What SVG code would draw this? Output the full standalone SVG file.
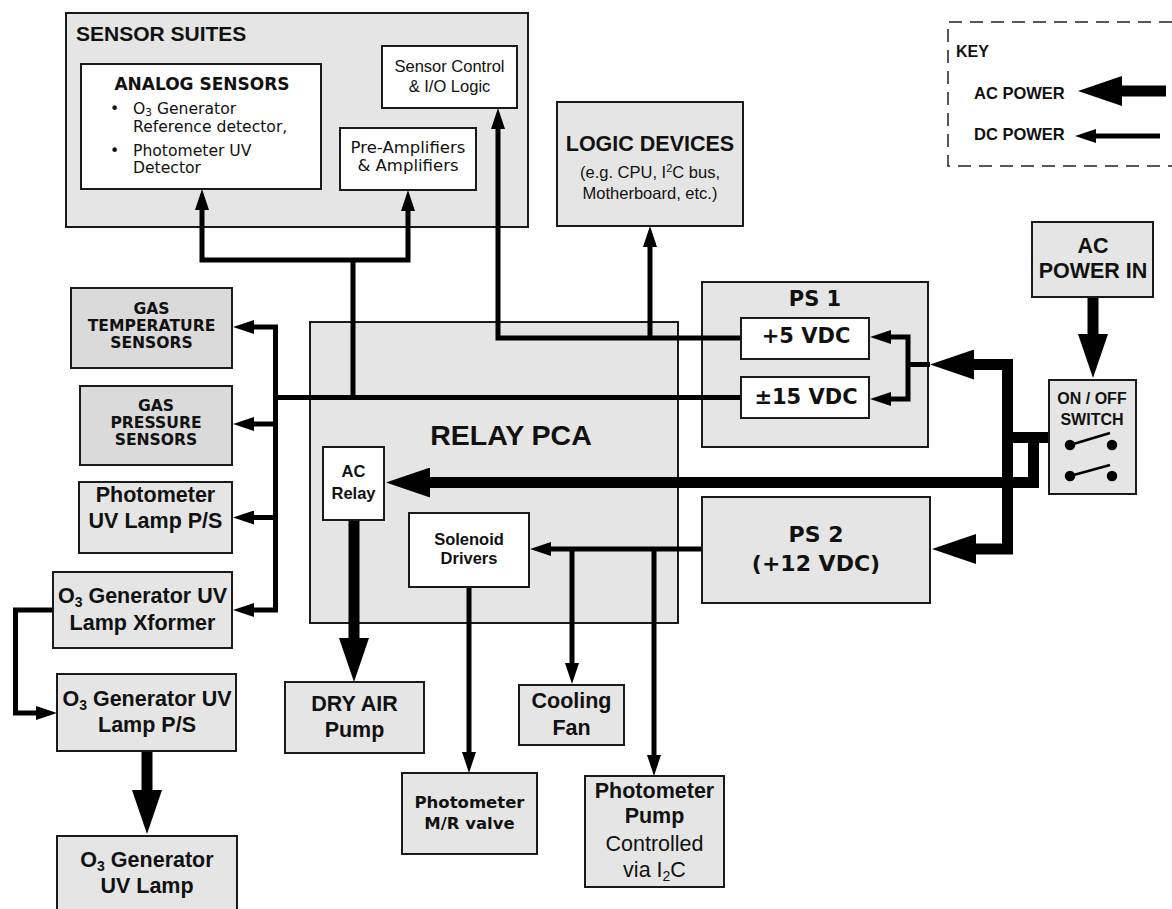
<svg xmlns="http://www.w3.org/2000/svg" width="1172" height="909" viewBox="0 0 1172 909">
<style>
.g{fill:#e5e5e5;stroke:#1a1a1a;stroke-width:2}
.gd{fill:#dadada;stroke:#1a1a1a;stroke-width:2}
.w{fill:#fff;stroke:#1a1a1a;stroke-width:2}
.ab{font-family:"Liberation Sans",Arial,sans-serif;font-weight:bold;fill:#111}
.ar{font-family:"Liberation Sans",Arial,sans-serif;fill:#111}
.vb{font-family:"DejaVu Sans",Verdana,sans-serif;font-weight:bold;fill:#111}
.vr{font-family:"DejaVu Sans",Verdana,sans-serif;fill:#111}
.m{text-anchor:middle}
.dc{fill:none;stroke:#000;stroke-width:5;stroke-linejoin:miter}
.ac{fill:none;stroke:#000;stroke-width:11;stroke-linejoin:miter}
</style>
<defs>
<marker id="dcA" viewBox="0 -7 21 14" refX="0" refY="0" markerWidth="21" markerHeight="14" markerUnits="userSpaceOnUse" orient="auto-start-reverse"><path d="M0,-7 L21,0 L0,7 z" fill="#000"/></marker>
<marker id="acA" viewBox="0 -15 44 30" refX="0" refY="0" markerWidth="44" markerHeight="30" markerUnits="userSpaceOnUse" orient="auto-start-reverse"><path d="M0,-15 L44,0 L0,15 z" fill="#000"/></marker>
</defs>

<g id="sensor-suites">
<rect class="g" x="66" y="13" width="462" height="214"/>
<text class="ab" x="76" y="41" font-size="21">SENSOR SUITES</text>
</g>
<g id="relay-pca">
<rect class="g" x="310" y="322" width="368" height="301"/>
<text class="ab m" x="511" y="445" font-size="28.5">RELAY PCA</text>
</g>
<g id="ps1">
<rect class="g" x="702" y="282" width="226" height="165"/>
<text class="vb m" x="815" y="306" font-size="21">PS 1</text>
</g>

<g id="connectors">
<path class="dc" d="M353,397.5 V260"/>
<path class="dc" d="M202,210 V260 H408 V211" marker-start="url(#dcA)" marker-end="url(#dcA)"/>
<path class="dc" d="M498,129 V338 H741" marker-start="url(#dcA)"/>
<path class="dc" d="M650,338 V247" marker-end="url(#dcA)"/>
<path class="dc" d="M741,397.5 H275.5"/>
<path class="dc" d="M254,327 H275.5 V610 H254" marker-start="url(#dcA)" marker-end="url(#dcA)"/>
<path class="dc" d="M275.5,424 H254" marker-end="url(#dcA)"/>
<path class="dc" d="M275.5,517.5 H254" marker-end="url(#dcA)"/>
<path class="dc" d="M930,364.5 H908"/>
<path class="dc" d="M891,337 H908 V399 H891" marker-start="url(#dcA)" marker-end="url(#dcA)"/>
<path class="dc" d="M702,549 H551" marker-end="url(#dcA)"/>
<path class="dc" d="M572,549 V663" marker-end="url(#dcA)"/>
<path class="dc" d="M654,549 V755" marker-end="url(#dcA)"/>
<path class="dc" d="M469,587 V752" marker-end="url(#dcA)"/>
<path class="dc" d="M53,610 H15.5 V713 H36" marker-end="url(#dcA)"/>
<path class="ac" d="M1093,297 V334" marker-end="url(#acA)"/>
<path class="ac" d="M974,364.5 H1007.5 V549 H976" marker-start="url(#acA)" marker-end="url(#acA)"/>
<path class="ac" d="M1049,437.5 H1002"/>
<path class="ac" d="M1033.5,437.5 V482.5 H430" marker-end="url(#acA)"/>
<path class="ac" d="M354,520 V638" marker-end="url(#acA)"/>
<path class="ac" d="M147,751 V790" marker-end="url(#acA)"/>
</g>

<g id="analog-sensors">
<rect class="w" x="81" y="64" width="240" height="125"/>
<text class="vb m" x="202" y="90" font-size="17">ANALOG SENSORS</text>
<text class="vr" font-size="15.6"><tspan x="110" y="114">•</tspan><tspan x="133" y="114">O<tspan font-size="10.5" dy="2">3</tspan><tspan dy="-2"> Generator</tspan></tspan><tspan x="133" y="132">Reference detector,</tspan><tspan x="110" y="156">•</tspan><tspan x="133" y="156">Photometer UV</tspan><tspan x="133" y="173">Detector</tspan></text>
</g>
<g id="sensor-control">
<rect class="w" x="382" y="46" width="135" height="62"/>
<text class="ar m" font-size="16.5"><tspan x="449.5" y="72">Sensor Control</tspan><tspan x="449.5" y="92">&amp; I/O Logic</tspan></text>
</g>
<g id="pre-amplifiers">
<rect class="w" x="340" y="128" width="136" height="62"/>
<text class="vr m" font-size="16.5"><tspan x="408" y="153">Pre-Amplifiers</tspan><tspan x="408" y="171">&amp; Amplifiers</tspan></text>
</g>
<g id="logic-devices">
<rect class="g" x="557" y="102" width="186" height="124"/>
<text class="ab m" x="650" y="151" font-size="21.5">LOGIC DEVICES</text>
<text class="ar m" font-size="16.5"><tspan x="650" y="178">(e.g. CPU, I<tspan font-size="11" dy="-6">2</tspan><tspan dy="6">C bus,</tspan></tspan><tspan x="650" y="199">Motherboard, etc.)</tspan></text>
</g>
<g id="key">
<path d="M1172,22 H948 V166 H1172" fill="none" stroke="#222" stroke-width="1.5" stroke-dasharray="13 8"/>
<text class="ab" x="956" y="57" font-size="16">KEY</text>
<text class="ab" x="974" y="99" font-size="16.5">AC POWER</text>
<text class="ab" x="974" y="140" font-size="16.5">DC POWER</text>
<path class="ac" d="M1166,91 H1122" marker-end="url(#acA)"/>
<path class="dc" d="M1160,136 H1096" marker-end="url(#dcA)"/>
</g>
<g id="ac-power-in">
<rect class="g" x="1032" y="222" width="121" height="75"/>
<text class="ab m" font-size="21.5"><tspan x="1093" y="253">AC</tspan><tspan x="1093" y="278">POWER IN</tspan></text>
</g>
<g id="on-off-switch">
<rect class="g" x="1049" y="380" width="87" height="114"/>
<text class="ab m" font-size="16"><tspan x="1092" y="404">ON / OFF</tspan><tspan x="1092" y="425">SWITCH</tspan></text>
<g fill="#000" stroke="#000" stroke-width="2.5">
<circle cx="1070" cy="445" r="4"/><circle cx="1112" cy="445" r="4"/>
<line x1="1070" y1="445" x2="1110" y2="433"/>
<circle cx="1070" cy="476" r="4"/><circle cx="1112" cy="476" r="4"/>
<line x1="1070" y1="476" x2="1110" y2="465"/>
</g>
</g>
<g id="plus5-vdc">
<rect class="w" x="741" y="318" width="128" height="41"/>
<text class="vb m" x="806" y="343" font-size="21">+5 VDC</text>
</g>
<g id="pm15-vdc">
<rect class="w" x="741" y="377" width="128" height="41"/>
<text class="vb m" x="806" y="404" font-size="21">±15 VDC</text>
</g>
<g id="ps2">
<rect class="g" x="702" y="497" width="228" height="106"/>
<text class="vb m" font-size="22"><tspan x="816" y="542">PS 2</tspan><tspan x="816" y="571">(+12 VDC)</tspan></text>
</g>
<g id="ac-relay">
<rect class="w" x="323" y="447" width="61" height="73"/>
<text class="ab m" font-size="16.5"><tspan x="353.5" y="477">AC</tspan><tspan x="353.5" y="499">Relay</tspan></text>
</g>
<g id="solenoid-drivers">
<rect class="w" x="409" y="513" width="120" height="74"/>
<text class="ab m" font-size="16.5"><tspan x="469" y="545">Solenoid</tspan><tspan x="469" y="564">Drivers</tspan></text>
</g>
<g id="gas-temperature-sensors">
<rect class="gd" x="71" y="288" width="161" height="80"/>
<text class="vb m" font-size="15.6"><tspan x="151.5" y="314">GAS</tspan><tspan x="151.5" y="331">TEMPERATURE</tspan><tspan x="151.5" y="348">SENSORS</tspan></text>
</g>
<g id="gas-pressure-sensors">
<rect class="gd" x="80" y="386" width="152" height="79"/>
<text class="vb m" font-size="15.6"><tspan x="156" y="411">GAS</tspan><tspan x="156" y="428">PRESSURE</tspan><tspan x="156" y="445">SENSORS</tspan></text>
</g>
<g id="photometer-uv-lamp-ps">
<rect class="g" x="79" y="482" width="153" height="71"/>
<text class="ab m" font-size="21.5"><tspan x="155.5" y="502">Photometer</tspan><tspan x="155.5" y="528">UV Lamp P/S</tspan></text>
</g>
<g id="o3-uv-lamp-xformer">
<rect class="g" x="53" y="572" width="179" height="76"/>
<text class="ab m" x="142.5" y="603" font-size="21.5">O<tspan font-size="14" dy="4">3</tspan><tspan dy="-4"> Generator UV</tspan></text>
<text class="ab m" x="142.5" y="630" font-size="21.5">Lamp Xformer</text>
</g>
<g id="o3-uv-lamp-ps">
<rect class="g" x="57" y="674" width="179" height="77"/>
<text class="ab m" x="147" y="706" font-size="21.5">O<tspan font-size="14" dy="4">3</tspan><tspan dy="-4"> Generator UV</tspan></text>
<text class="ab m" x="147" y="732" font-size="21.5">Lamp P/S</text>
</g>
<g id="o3-uv-lamp">
<rect class="g" x="57" y="836" width="180" height="84"/>
<text class="ab m" x="147" y="867" font-size="21.5">O<tspan font-size="14" dy="4">3</tspan><tspan dy="-4"> Generator</tspan></text>
<text class="ab m" x="147" y="893" font-size="21.5">UV Lamp</text>
</g>
<g id="dry-air-pump">
<rect class="g" x="285" y="682" width="139" height="71"/>
<text class="ab m" font-size="21.5"><tspan x="354.5" y="711">DRY AIR</tspan><tspan x="354.5" y="737">Pump</tspan></text>
</g>
<g id="cooling-fan">
<rect class="g" x="519" y="685" width="105" height="60"/>
<text class="ab m" font-size="21.5"><tspan x="571.5" y="708">Cooling</tspan><tspan x="571.5" y="735">Fan</tspan></text>
</g>
<g id="photometer-mr-valve">
<rect class="g" x="402" y="773" width="135" height="81"/>
<text class="vb m" font-size="16.5"><tspan x="469.5" y="808">Photometer</tspan><tspan x="469.5" y="829">M/R valve</tspan></text>
</g>
<g id="photometer-pump">
<rect class="g" x="585" y="776" width="139" height="111"/>
<text class="ab m" font-size="21.5"><tspan x="654.5" y="798">Photometer</tspan><tspan x="654.5" y="823">Pump</tspan></text>
<text class="ar m" font-size="21.5"><tspan x="654.5" y="851">Controlled</tspan><tspan x="654.5" y="877">via I<tspan font-size="14" dy="4">2</tspan><tspan dy="-4">C</tspan></tspan></text>
</g>
</svg>
